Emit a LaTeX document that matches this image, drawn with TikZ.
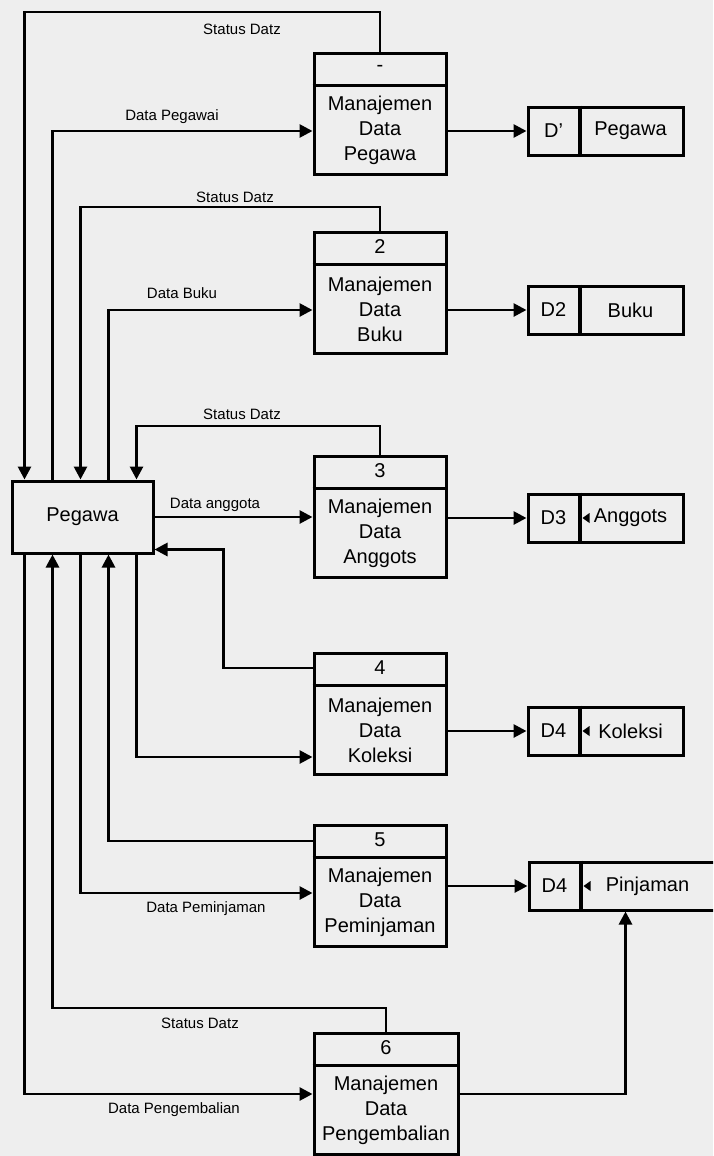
\documentclass[tikz,border=0pt]{standalone}
\usepackage{fontspec}
\setmainfont{Liberation Sans}
\usepackage{tikz}
\usetikzlibrary{arrows.meta, positioning, calc}
\definecolor{bggray}{RGB}{238, 238, 238}

\begin{document}
\begin{tikzpicture}[x=1pt, y=-1pt,
  every node/.style={font=\fontsize{20}{25}\selectfont},
  boxline/.style={line width=3pt},
  procbox/.style={draw, boxline, minimum height=121pt, inner sep=0pt},
  storebox/.style={draw, boxline, minimum height=48pt, inner sep=0pt},
  entity/.style={draw, boxline, minimum width=141pt, minimum height=72pt},
  flow/.style={line width=2.8pt, -{Triangle[length=13pt, width=13pt]}},
  flowlbl/.style={font=\fontsize{15}{18}\selectfont, inner sep=0pt}]

  % ---------- background ----------
  \fill[bggray] (0,0) rectangle (713,1156);
  \useasboundingbox (0,0) rectangle (713,1156);
  \clip (0,0) rectangle (713,1156);

  % ---------- external entity ----------
  \node[entity] (peg) at (82.5,517) {Pegawa};
  \foreach \i/\dx in {1/14, 2/42, 3/70, 4/98, 5/126}{
    \coordinate (t\i) at ($(peg.north west)+(\dx,0)$);
    \coordinate (b\i) at ($(peg.south west)+(\dx,0)$);
  }

  % ---------- processes ----------
  \foreach \i/\x/\y/\w/\num/\txt in {1/380/114/132/-/Pegawa, 2/380/293/132/2/Buku,
      3/380/517/132/3/Anggots, 4/380/714/132/4/Koleksi,
      5/380/886/132/5/Peminjaman, 6/386/1094/144/6/Pengembalian}{
    \node[procbox, minimum width=\w pt] (p\i) at (\x,\y) {};
    \draw[boxline] ($(p\i.north west)+(0,33)$) -- ($(p\i.north east)+(0,33)$);
    \node (n\i) at ($(p\i.north)+(0,16)$) {\num};
    \node[align=center] (m\i) at ($(p\i.center)+(0,16)$) {Manajemen\\Data\\\txt};
  }

  % ---------- data stores ----------
  \foreach \i/\y/\id/\txt in {1/131/D'/Pegawa, 2/310/D2/Buku, 3/518/D3/Anggots, 4/731/D4/Koleksi}{
    \node[storebox, minimum width=155pt] (s\i) at (605.5,\y) {};
    \draw[line width=4pt] ($(s\i.north west)+(53,0)$) -- ($(s\i.south west)+(53,0)$);
    \node (d\i) at ($(s\i.west)+(27,0)$) {\id};
    \node (e\i) at ($(s\i.west)+(104,0)$) {\txt};
  }
  \node[storebox, minimum width=187pt] (s5) at (622.5,886) {};
  \draw[line width=4pt] ($(s5.north west)+(53,0)$) -- ($(s5.south west)+(53,0)$);
  \node (d5) at ($(s5.west)+(27,0)$) {D4};
  \node (e5) at ($(s5.west)+(120,0)$) {Pinjaman};
  \foreach \s in {s3, s4, s5}
    \fill ($(\s.west)+(56,0)$) -- ++(7,-5) -- ++(0,10) -- cycle;

  % ---------- flows ----------
  \draw[flow] (p1.north) -- ++(0,-40) -| (t1);
  \draw[flow] (t2) |- (p1.west |- s1.west);
  \draw[flow] (p2.north) -- ++(0,-24) -| (t3);
  \draw[flow] (t4) |- (p2.west |- s2.west);
  \draw[flow] (p3.north) -- ++(0,-29) -| (t5);
  \draw[flow] (peg.east) -- (p3.west);
  \draw[flow] ($(p4.north west)+(0,16)$) -| ($(peg.south east)+(69,-5)$) -- ($(peg.south east)+(0,-5)$);
  \draw[flow] (b5) |- ($(p4.south west)+(0,-19)$);
  \draw[flow] ($(p5.north west)+(0,17)$) -| (b4);
  \draw[flow] (b3) |- ($(p5.west)+(0,7)$);
  \draw[flow] (p6.north) -- ++(0,-24) -| (b2);
  \draw[flow] (b1) |- (p6.west);
  \draw[flow] (p6.east) -| ($(s5.south west)+(98,0)$);
  \foreach \i in {1,...,5}
    \draw[flow] (p\i.east |- s\i.west) -- (s\i.west);

  % ---------- labels ----------
  \node[flowlbl] (l1) at (242,29) {Status Datz};
  \node[flowlbl] (l2) at (172,117) {Data Pegawai};
  \node[flowlbl] (l3) at (235,197) {Status Datz};
  \node[flowlbl] (l4) at (182,293) {Data Buku};
  \node[flowlbl] (l5) at (242,414) {Status Datz};
  \node[flowlbl] (l6) at (215,505) {Data anggota};
  \node[flowlbl] (l7) at (206,909) {Data Peminjaman};
  \node[flowlbl] (l8) at (200,1023) {Status Datz};
  \node[flowlbl] (l9) at (174,1110) {Data Pengembalian};
\end{tikzpicture}
\end{document}
